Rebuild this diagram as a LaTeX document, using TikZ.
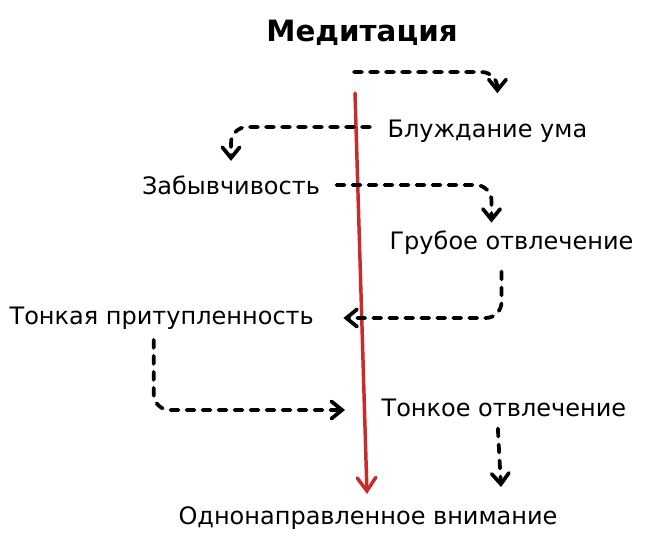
\documentclass[tikz,border=0pt]{standalone}
\usepackage{fontspec}
\setmainfont{DejaVu Sans}
\usetikzlibrary{arrows.meta,calc}
\definecolor{hintred}{HTML}{C92A2A}
\tikzset{
  stage/.style={inner sep=1pt, font=\fontsize{18}{21}\selectfont},
  hop/.style={line width=2.8pt, dash pattern=on 6pt off 6pt, line cap=round,
    rounded corners=12pt, -{Straight Barb[length=8pt,width=13pt,line cap=round]}},
  axis/.style={line width=2.6pt, color=hintred, line cap=round,
    -{Straight Barb[length=10pt,width=14pt,line cap=round]}}
}
\begin{document}
\begin{tikzpicture}[x=0.75pt,y=-0.75pt]
			%%%%% START %%%%%
			
			\useasboundingbox (0, 0) rectangle (648, 546);
			
			\node[inner sep=1pt, font=\fontsize{22}{26}\selectfont\bfseries] (med) at (362, 33) {Медитация};
			
			\node[stage, anchor=west] (bluzh) at (386, 131) {Блуждание ума};
			\node[stage] (zab) at (231, 185) {Забывчивость};
			\node[stage, anchor=west] (grub) at (388, 243) {Грубое отвлечение};
			\node[stage, anchor=west] (tonk) at (8, 318) {Тонкая притупленность};
			\node[stage, anchor=west] (tonot) at (380, 408) {Тонкое отвлечение};
			\node[stage] (odno) at (368, 518) {Однонаправленное внимание};
			
			\coordinate (start) at (354, 72);
			\coordinate (top) at (355, 93);
			
			\draw[axis] (top) -- ($(odno.north)+(-1,-11)$);
			
			\draw[hop] (start) -| ($(bluzh.north)+(10,-25)$);
			\draw[hop] ($(bluzh.west)+(-16,-4)$) -| ($(zab.north)+(0,-13)$);
			\draw[hop] ($(zab.east)+(15,0)$) -| ($(grub.north)+(-20,-7)$);
			\draw[hop] ($(grub.south)+(-10,15)$) |- ($(tonk.east)+(28,0)$);
			\draw[hop] ($(tonk.south)+(-8,9)$) |- ($(tonot.west)+(-35,2)$);
			\draw[hop] ($(tonot.south)+(-6,10)$) -- ($(odno.north)+(133,-18)$);
			
			%%%%% END %%%%%
\end{tikzpicture}
\end{document}
